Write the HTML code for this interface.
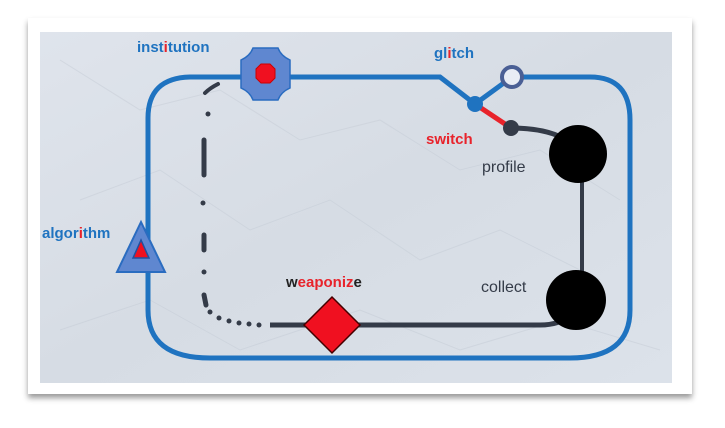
<!DOCTYPE html>
<html><head><style>
body{margin:0;width:725px;height:423px;background:#fff;overflow:hidden;font-family:"Liberation Sans",sans-serif}
</style></head><body>
<svg width="725" height="423" xmlns="http://www.w3.org/2000/svg">
<defs>
<filter id="sh" x="-5%" y="-5%" width="110%" height="115%"><feDropShadow dx="0" dy="4" stdDeviation="3" flood-color="#000" flood-opacity="0.4"/></filter>
<linearGradient id="bg" x1="0" y1="0" x2="1" y2="1"><stop offset="0" stop-color="#dfe4ec"/><stop offset="0.5" stop-color="#d6dce4"/><stop offset="1" stop-color="#dce2ea"/></linearGradient>
</defs>
<rect x="28" y="18" width="664" height="376" fill="#fff" filter="url(#sh)"/>
<rect x="40" y="32" width="632" height="351" fill="url(#bg)"/>
<g stroke="#c5ccd6" stroke-width="1" fill="none" opacity="0.5">
<path d="M60 60 L140 110 L220 90 L300 140 L380 120 L460 170 L540 150 L620 200"/>
<path d="M80 200 L160 170 L250 230 L330 200 L420 260 L500 230 L600 280"/>
<path d="M60 330 L150 300 L240 350 L360 310 L460 350 L560 320 L660 350"/>
</g>
<!-- blue loop -->
<path d="M148 270 L148 118 Q148 78 190 77 L440 77 L475 104 L512 77 M522 77 L590 77 Q630 77 630 120 L630 310 Q630 358 570 358 L210 358 Q148 358 148 310 L148 268" fill="none" stroke="#1f73c0" stroke-width="5"/>
<!-- dark lines -->
<path d="M510 128 Q560 128 578 150" fill="none" stroke="#343b48" stroke-width="5"/>
<line x1="582" y1="160" x2="582" y2="290" stroke="#343b48" stroke-width="4"/>
<path d="M270 325 L540 325 Q560 325 570 315" fill="none" stroke="#343b48" stroke-width="5"/>
<line x1="475" y1="104" x2="505" y2="124" stroke="#e8232b" stroke-width="5"/>
<circle cx="475" cy="104" r="8" fill="#1f73c0"/>
<circle cx="511" cy="128" r="8" fill="#343b48"/>
<circle cx="512" cy="77" r="10" fill="#e8ecf5" stroke="#4a5f95" stroke-width="4"/>
<circle cx="578" cy="154" r="29" fill="#000"/>
<circle cx="576" cy="300" r="30" fill="#000"/>
<!-- dotted/dashed left -->
<path d="M218 84 Q210 88 205 93" stroke="#343b48" stroke-width="4" fill="none" stroke-linecap="round"/>
<g fill="#343b48"><circle cx="208" cy="114" r="2.5"/><circle cx="203" cy="203" r="2.5"/><circle cx="204" cy="272" r="2.5"/>
<circle cx="210" cy="312" r="2.5"/><circle cx="219" cy="318" r="2.5"/><circle cx="229" cy="321" r="2.5"/><circle cx="239" cy="323" r="2.5"/><circle cx="249" cy="324" r="2.5"/><circle cx="259" cy="325" r="2.5"/></g>
<line x1="204" y1="140" x2="204" y2="175" stroke="#343b48" stroke-width="5" stroke-linecap="round"/>
<line x1="204" y1="235" x2="204" y2="250" stroke="#343b48" stroke-width="5" stroke-linecap="round"/>
<line x1="204" y1="295" x2="206" y2="305" stroke="#343b48" stroke-width="5" stroke-linecap="round"/>
<!-- institution node -->
<path d="M253 48 L278 48 Q281 56 290 60 L290 88 Q281 92 278 100 L253 100 Q250 92 241 88 L241 60 Q250 56 253 48 Z" fill="#5f87d0" stroke="#2a6cc0" stroke-width="1.5"/>
<path d="M261 64 L270 64 L275 69 L275 78 L270 83 L261 83 L256 78 L256 69 Z" fill="#f01020" stroke="#c00" stroke-width="1"/>
<!-- triangle -->
<polygon points="141,222 117,272 165,272" fill="#5f87d0" stroke="#2a6cc0" stroke-width="2"/>
<polygon points="141,240 133,258 149,258" fill="#f01020" stroke="#2050a0" stroke-width="1.5"/>
<!-- diamond -->
<polygon points="332,297 360,325 332,353 304,325" fill="#f01020" stroke="#400" stroke-width="1.5"/>
<!-- labels -->
<g font-size="15" font-weight="bold">
<text x="137" y="52" fill="#1f73c0">inst<tspan fill="#e8232b">i</tspan>tution</text>
<text x="434" y="58" fill="#1f73c0">gl<tspan fill="#e8232b">i</tspan>tch</text>
<text x="426" y="144" fill="#e8232b">switch</text>
<text x="482" y="172" fill="#343b48" font-weight="normal" font-size="16">profile</text>
<text x="42" y="238" fill="#1f73c0">algor<tspan fill="#e8232b">i</tspan>thm</text>
<text x="286" y="287" fill="#222">w<tspan fill="#e8232b">eaponiz</tspan>e</text>
<text x="481" y="292" fill="#343b48" font-weight="normal" font-size="16">collect</text>
</g>
</svg>
</body></html>
